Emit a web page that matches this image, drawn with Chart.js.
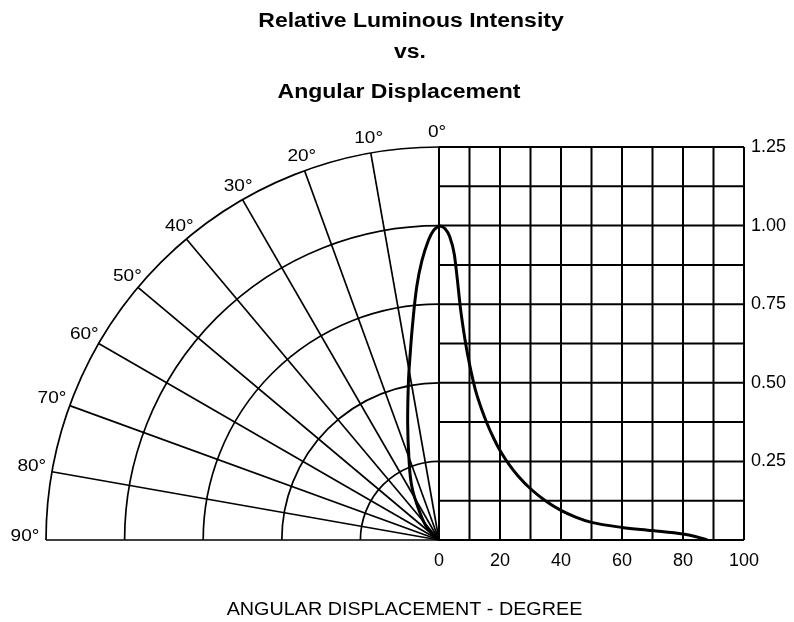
<!DOCTYPE html>
<html>
<head>
<meta charset="utf-8">
<title>Relative Luminous Intensity vs. Angular Displacement</title>
<script src="https://cdn.jsdelivr.net/npm/chart.js@4.4.0/dist/chart.umd.min.js"></script>
<style>
  html, body { margin: 0; padding: 0; background: #fff; }
  #wrap { width: 794px; height: 622px; }
</style>
</head>
<body>
<div id="wrap"><canvas id="luxChart"></canvas></div>
<script>
// Intensity vs angle (right hand grid)
var angleDeg = [0, 2, 3.5, 5, 6, 7, 8, 9, 10, 11, 12, 14, 16, 18, 20, 23, 26, 30, 35, 40, 45, 50, 60, 70, 80, 84, 88];
var intensity = [1.0, 0.99, 0.965, 0.91, 0.83, 0.74, 0.67, 0.61, 0.56, 0.515, 0.475, 0.415, 0.365, 0.322, 0.285, 0.24, 0.203, 0.163, 0.124, 0.094, 0.072, 0.056, 0.04, 0.03, 0.019, 0.011, 0];

// Radiation lobe (left polar plot), angle from the axis and relative intensity
var polarAngle = [0, 1, 2, 3.5, 5, 7, 9, 11, 15, 20, 27, 35, 45, 90];
var polarValue = [1.0, 0.985, 0.955, 0.89, 0.81, 0.69, 0.59, 0.51, 0.385, 0.28, 0.19, 0.105, 0.05, 0];

// Axes
var xTicks = [0, 20, 40, 60, 80, 100];
var yTicks = [0.25, 0.5, 0.75, 1.0, 1.25];
var polarRings = [0.25, 0.5, 0.75, 1.0, 1.25];
var polarSpokes = [0, 10, 20, 30, 40, 50, 60, 70, 80, 90];

var titleLines = ['Relative Luminous Intensity', 'vs.', 'Angular Displacement'];
var xTitle = 'ANGULAR DISPLACEMENT - DEGREE';

// Layout: polar radius vs width of the rectangular grid (pixels)
var R_MAX = 1.25;
var DEG_MAX = 100;
var GRID_W = 305;
var RADIUS = 393;
var FONT = "'Liberation Sans', Arial, Helvetica, sans-serif";

var rad = Math.PI / 180;

var polarPoints = polarAngle.map(function (a, i) {
  return { x: -polarValue[i] * Math.sin(a * rad), y: polarValue[i] * Math.cos(a * rad) };
});
var curvePoints = angleDeg.map(function (a, i) {
  return { x: a, y: intensity[i] };
});

// Wide text, the reference glyphs are a little stretched
function drawText(ctx, text, cx, baseY, font, sx) {
  ctx.save();
  ctx.font = font;
  ctx.textAlign = 'center';
  ctx.textBaseline = 'alphabetic';
  ctx.translate(cx, baseY);
  ctx.scale(sx, 1);
  ctx.fillText(text, 0, 0);
  ctx.restore();
}

function segment(ctx, x1, y1, x2, y2) {
  ctx.beginPath();
  ctx.moveTo(x1, y1);
  ctx.lineTo(x2, y2);
  ctx.stroke();
}

var gridPlugin = {
  id: 'polarGrid',
  beforeDatasetsDraw: function (chart) {
    var ctx = chart.ctx;
    var x = chart.scales.x, xp = chart.scales.xp, y = chart.scales.y;
    var ox = x.getPixelForValue(0), oy = y.getPixelForValue(0);
    ctx.save();
    ctx.strokeStyle = '#000';

    // rectangular grid
    ctx.lineWidth = 2;
    for (var d = 0; d <= DEG_MAX; d += 10) {
      var px = x.getPixelForValue(d);
      segment(ctx, px, oy, px, y.getPixelForValue(R_MAX));
    }
    for (var k = 0; k <= 10; k++) {
      var py = y.getPixelForValue(k * 0.125);
      segment(ctx, ox, py, x.getPixelForValue(DEG_MAX), py);
    }

    // polar rings and spokes
    ctx.lineWidth = 1.7;
    polarRings.forEach(function (r) {
      var rp = oy - y.getPixelForValue(r);
      ctx.beginPath();
      ctx.arc(ox, oy, rp, Math.PI, 1.5 * Math.PI);
      ctx.stroke();
    });
    polarSpokes.forEach(function (a) {
      segment(ctx, ox, oy,
        xp.getPixelForValue(-R_MAX * Math.sin(a * rad)),
        y.getPixelForValue(R_MAX * Math.cos(a * rad)));
    });
    ctx.restore();
  },
  afterDraw: function (chart) {
    var ctx = chart.ctx;
    var xp = chart.scales.xp, y = chart.scales.y;
    ctx.save();
    ctx.fillStyle = '#000';

    // title
    var titleX = [411, 410, 399];
    var titleBase = [27, 58, 98];
    titleLines.forEach(function (t, i) {
      drawText(ctx, t, titleX[i], titleBase[i], 'bold 20px ' + FONT, 1.15);
    });

    // angle labels around the outer ring
    polarSpokes.forEach(function (a) {
      var s = Math.sin(a * rad), c = Math.cos(a * rad);
      var tx = xp.getPixelForValue(-R_MAX * s);
      var ty = y.getPixelForValue(R_MAX * c);
      var cx = tx - 2 - 19 * s * s * s;
      var cy = ty - 5 - 11.5 * c;
      drawText(ctx, a + '\u00B0', cx, cy + 6, '17px ' + FONT, 1.12);
    });

    // x axis title
    drawText(ctx, xTitle, 404.5, 615, '19px ' + FONT, 1.04);
    ctx.restore();
  }
};

var ctx = document.getElementById('luxChart').getContext('2d');
var luxChart = new Chart(ctx, {
  type: 'scatter',
  data: {
    datasets: [{
      label: 'Relative intensity',
      data: curvePoints,
      xAxisID: 'x',
      yAxisID: 'y',
      showLine: true,
      fill: false,
      borderColor: '#000',
      borderWidth: 3,
      pointRadius: 0,
      cubicInterpolationMode: 'monotone'
    }, {
      label: 'Radiation pattern',
      data: polarPoints,
      xAxisID: 'xp',
      yAxisID: 'y',
      showLine: true,
      fill: false,
      borderColor: '#000',
      borderWidth: 3,
      pointRadius: 0,
      tension: 0.4
    }]
  },
  options: {
    responsive: true,
    maintainAspectRatio: false,
    animation: false,
    layout: {
      padding: { left: 46, top: 147, right: 0, bottom: 0 }
    },
    plugins: {
      legend: { display: false },
      tooltip: { enabled: false },
      title: { display: false }
    },
    scales: {
      x: {
        type: 'linear',
        position: 'bottom',
        min: -DEG_MAX * RADIUS / GRID_W,
        max: DEG_MAX,
        afterFit: function (s) { s.height = 82; },
        afterBuildTicks: function (s) {
          s.ticks = xTicks.map(function (v) { return { value: v }; });
        },
        grid: { display: false, drawTicks: false },
        border: { display: false },
        ticks: {
          color: '#000',
          padding: 10,
          autoSkip: false,
          maxRotation: 0,
          font: { family: FONT, size: 18 }
        }
      },
      xp: {
        type: 'linear',
        display: false,
        min: -R_MAX,
        max: R_MAX * GRID_W / RADIUS
      },
      y: {
        type: 'linear',
        position: 'right',
        min: 0,
        max: R_MAX,
        afterFit: function (s) { s.width = 50; },
        afterBuildTicks: function (s) {
          s.ticks = yTicks.map(function (v) { return { value: v }; });
        },
        grid: { display: false, drawTicks: false },
        border: { display: false },
        ticks: {
          color: '#000',
          padding: 7,
          font: { family: FONT, size: 18 },
          callback: function (v) { return Number(v).toFixed(2); }
        }
      }
    }
  },
  plugins: [gridPlugin]
});
</script>
</body>
</html>
